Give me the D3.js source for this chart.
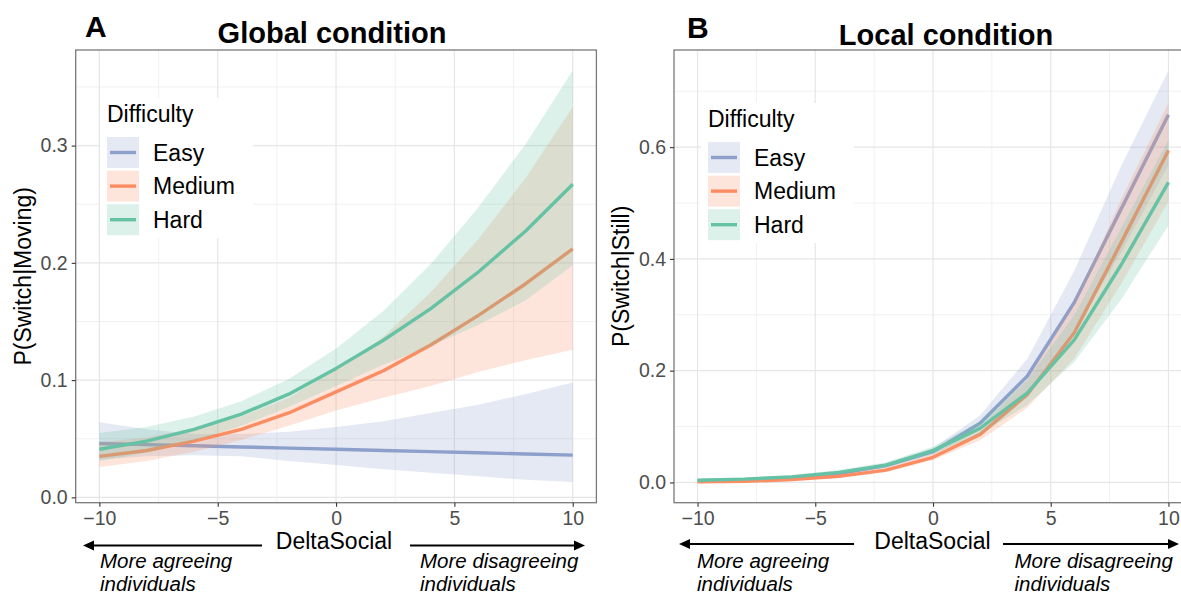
<!DOCTYPE html>
<html>
<head>
<meta charset="utf-8">
<script src="https://cdn.jsdelivr.net/npm/d3@7"></script>
<style>
  body { margin: 0; background: #fff; }
  svg { display: block; font-family: 'Liberation Sans', Arial, sans-serif; }
</style>
</head>
<body>
<div id="chart"></div>
<script>
// predicted values, evaluated at these DeltaSocial points
const deltaSocial = [-10, -8, -6, -4, -2, 0, 2, 4, 6, 8, 10];
const difficulty = ['Easy', 'Medium', 'Hard'];
const colors = ['#8DA0CB', '#FC8D62', '#66C2A5'];

// Global condition: P(Switch|Moving)
const globalEasy     = [0.046, 0.045, 0.044, 0.043, 0.042, 0.041, 0.040, 0.039, 0.038, 0.037, 0.036];
const globalEasyLo   = [0.032, 0.035, 0.036, 0.035, 0.031, 0.0275, 0.024, 0.021, 0.018, 0.015, 0.013];
const globalEasyHi   = [0.064, 0.058, 0.054, 0.054, 0.056, 0.060, 0.065, 0.072, 0.079, 0.088, 0.098];
const globalMedium   = [0.035, 0.040, 0.048, 0.058, 0.072, 0.090, 0.108, 0.130, 0.155, 0.182, 0.212];
const globalMediumLo = [0.026, 0.031, 0.039, 0.049, 0.061, 0.074, 0.085, 0.095, 0.107, 0.117, 0.126];
const globalMediumHi = [0.047, 0.051, 0.059, 0.069, 0.085, 0.109, 0.137, 0.175, 0.220, 0.272, 0.333];
const globalHard     = [0.041, 0.048, 0.058, 0.071, 0.088, 0.110, 0.134, 0.161, 0.192, 0.227, 0.267];
const globalHardLo   = [0.031, 0.038, 0.048, 0.061, 0.077, 0.095, 0.113, 0.129, 0.147, 0.168, 0.198];
const globalHardHi   = [0.055, 0.060, 0.069, 0.082, 0.101, 0.127, 0.159, 0.199, 0.247, 0.301, 0.364];

// Local condition: P(Switch|Still)
const localEasy     = [0.003, 0.005, 0.009, 0.016, 0.030, 0.055, 0.106, 0.190, 0.322, 0.490, 0.658];
const localEasyLo   = [0.0019, 0.0034, 0.0067, 0.0127, 0.0257, 0.0491, 0.0935, 0.1625, 0.270, 0.413, 0.568];
const localEasyHi   = [0.0047, 0.0073, 0.0121, 0.0200, 0.0350, 0.0616, 0.120, 0.221, 0.379, 0.567, 0.737];
const localMedium   = [0.001, 0.002, 0.005, 0.011, 0.022, 0.045, 0.086, 0.157, 0.268, 0.430, 0.594];
const localMediumLo = [0.0006, 0.0013, 0.0036, 0.0086, 0.0184, 0.0397, 0.0756, 0.1335, 0.222, 0.356, 0.503];
const localMediumHi = [0.0017, 0.0030, 0.0069, 0.0141, 0.0262, 0.0509, 0.0977, 0.184, 0.320, 0.507, 0.679];
const localHard     = [0.004, 0.006, 0.010, 0.018, 0.031, 0.057, 0.097, 0.160, 0.255, 0.390, 0.537];
const localHardLo   = [0.0026, 0.0042, 0.0075, 0.0145, 0.0266, 0.0509, 0.0862, 0.1385, 0.2155, 0.328, 0.460];
const localHardHi   = [0.0063, 0.0087, 0.0133, 0.0223, 0.0362, 0.0638, 0.109, 0.184, 0.299, 0.456, 0.613];

const xTicks = [-10, -5, 0, 5, 10];
const xMinor = [-7.5, -2.5, 2.5, 7.5];
const globalYTicks = [0, 0.1, 0.2, 0.3];
const globalYMinor = [0.05, 0.15, 0.25, 0.35];
const localYTicks = [0, 0.2, 0.4, 0.6];
const localYMinor = [0.1, 0.3, 0.5, 0.7];

const W = 1181, H = 594;
const bandAlpha = 0.23;

const svg = d3.select('#chart').append('svg')
  .attr('width', W)
  .attr('height', H);

svg.append('rect').attr('width', W).attr('height', H).attr('fill', '#fff');

function drawPanel(p) {
  const series = difficulty.map((name, i) => ({
    name: name,
    color: colors[i],
    rows: deltaSocial.map((d, j) => ({ x: d, y: p.values[i][j], lo: p.lo[i][j], hi: p.hi[i][j] }))
  }));

  // ggplot style 5% expansion
  const xExt = d3.extent(deltaSocial);
  const xPad = (xExt[1] - xExt[0]) * 0.05;
  const x = d3.scaleLinear()
    .domain([xExt[0] - xPad, xExt[1] + xPad])
    .range([p.left, p.right]);

  const yExt = d3.extent(d3.merge(p.lo.concat(p.hi)));
  const yPad = (yExt[1] - yExt[0]) * 0.05;
  const y = d3.scaleLinear()
    .domain([yExt[0] - yPad, yExt[1] + yPad])
    .range([p.bottom, p.top]);

  const g = svg.append('g');

  // grid
  const grid = g.append('g');
  grid.selectAll('.vminor').data(xMinor).enter().append('line')
    .attr('x1', d => x(d)).attr('x2', d => x(d))
    .attr('y1', p.top).attr('y2', p.bottom)
    .attr('stroke', '#efefef').attr('stroke-width', 0.9);
  grid.selectAll('.hminor').data(p.yMinor).enter().append('line')
    .attr('x1', p.left).attr('x2', p.right)
    .attr('y1', d => y(d)).attr('y2', d => y(d))
    .attr('stroke', '#efefef').attr('stroke-width', 0.9);
  grid.selectAll('.vmajor').data(xTicks).enter().append('line')
    .attr('x1', d => x(d)).attr('x2', d => x(d))
    .attr('y1', p.top).attr('y2', p.bottom)
    .attr('stroke', '#e6e6e6').attr('stroke-width', 1.2);
  grid.selectAll('.hmajor').data(p.yTicks).enter().append('line')
    .attr('x1', p.left).attr('x2', p.right)
    .attr('y1', d => y(d)).attr('y2', d => y(d))
    .attr('stroke', '#e6e6e6').attr('stroke-width', 1.2);

  const area = d3.area().x(d => x(d.x)).y0(d => y(d.lo)).y1(d => y(d.hi));
  const line = d3.line().x(d => x(d.x)).y(d => y(d.y));

  // ribbon then line, group by group
  series.forEach(s => {
    g.append('path')
      .datum(s.rows)
      .attr('d', area)
      .attr('fill', s.color)
      .attr('fill-opacity', bandAlpha);
    g.append('path')
      .datum(s.rows)
      .attr('d', line)
      .attr('fill', 'none')
      .attr('stroke', s.color)
      .attr('stroke-width', 3.4)
      .attr('stroke-linejoin', 'round');
  });

  // panel border
  g.append('rect')
    .attr('x', p.left).attr('y', p.top)
    .attr('width', p.right - p.left).attr('height', p.bottom - p.top)
    .attr('fill', 'none').attr('stroke', '#7a7a7a').attr('stroke-width', 1.3);

  // axes
  const xAxis = d3.axisBottom(x).tickValues(xTicks).tickSize(4).tickPadding(4);
  const yAxis = d3.axisLeft(y).tickValues(p.yTicks).tickSize(4).tickPadding(4).tickFormat(d3.format('.1f'));

  const ax = g.append('g')
    .attr('transform', `translate(0, ${p.bottom})`)
    .call(xAxis);
  const ay = g.append('g')
    .attr('transform', `translate(${p.left}, 0)`)
    .call(yAxis);
  [ax, ay].forEach(a => {
    a.select('.domain').remove();
    a.selectAll('line').attr('stroke', '#333').attr('stroke-width', 1.1);
    a.selectAll('text')
      .attr('fill', '#4d4d4d')
      .attr('font-size', '19.5px')
      .attr('font-family', "'Liberation Sans', Arial, sans-serif");
  });

  // titles
  g.append('text')
    .text(p.tag)
    .attr('x', p.tagX).attr('y', p.tagY)
    .attr('font-size', '30px').attr('font-weight', 'bold');
  g.append('text')
    .text(p.title)
    .attr('x', p.titleX).attr('y', p.titleY)
    .attr('text-anchor', 'middle')
    .attr('font-size', '29px').attr('font-weight', 'bold');

  g.append('text')
    .text(p.yLabel)
    .attr('transform', `translate(${p.left - 45}, ${(p.top + p.bottom) / 2}) rotate(-90)`)
    .attr('text-anchor', 'middle')
    .attr('font-size', '23px');

  // x label with direction arrows
  const lab = g.append('g');
  lab.append('text')
    .text('DeltaSocial')
    .attr('x', p.xLabelX).attr('y', 549)
    .attr('text-anchor', 'middle')
    .attr('font-size', '23px');
  const ay0 = p.arrowY;
  lab.append('line')
    .attr('x1', p.arrowL[0] + 8).attr('x2', p.arrowL[1])
    .attr('y1', ay0).attr('y2', ay0)
    .attr('stroke', '#000').attr('stroke-width', 2);
  lab.append('path')
    .attr('d', `M${p.arrowL[0]},${ay0} l11,-5 l0,10 z`)
    .attr('fill', '#000');
  lab.append('line')
    .attr('x1', p.arrowR[0]).attr('x2', p.arrowR[1] - 8)
    .attr('y1', ay0).attr('y2', ay0)
    .attr('stroke', '#000').attr('stroke-width', 2);
  lab.append('path')
    .attr('d', `M${p.arrowR[1]},${ay0} l-11,-5 l0,10 z`)
    .attr('fill', '#000');

  const notes = [
    { x: p.noteL, lines: ['More agreeing', 'individuals'] },
    { x: p.noteR, lines: ['More disagreeing', 'individuals'] }
  ];
  notes.forEach(n => {
    n.lines.forEach((t, k) => {
      lab.append('text')
        .text(t)
        .attr('x', n.x).attr('y', 568 + k * 23)
        .attr('font-size', '20.5px')
        .attr('font-style', 'italic');
    });
  });

  // legend
  const lx = p.legendX, ly = p.legendY;
  const leg = g.append('g');
  leg.append('rect')
    .attr('x', lx - 7).attr('y', ly - 24)
    .attr('width', 153).attr('height', 140)
    .attr('fill', '#fff');
  leg.append('text')
    .text('Difficulty')
    .attr('x', lx).attr('y', ly)
    .attr('font-size', '23px');
  series.forEach((s, i) => {
    const ky = ly + 15 + i * 33.6;
    leg.append('rect')
      .attr('x', lx).attr('y', ky)
      .attr('width', 32).attr('height', 31)
      .attr('fill', s.color).attr('fill-opacity', bandAlpha);
    leg.append('line')
      .attr('x1', lx + 3).attr('x2', lx + 29)
      .attr('y1', ky + 15.5).attr('y2', ky + 15.5)
      .attr('stroke', s.color).attr('stroke-width', 3.4);
    leg.append('text')
      .text(s.name)
      .attr('x', lx + 46).attr('y', ky + 23.5)
      .attr('font-size', '23px');
  });
}

drawPanel({
  tag: 'A', tagX: 85, tagY: 37,
  title: 'Global condition', titleX: 332, titleY: 43,
  yLabel: 'P(Switch|Moving)',
  left: 75.7, right: 596.4, top: 50, bottom: 502.7,
  values: [globalEasy, globalMedium, globalHard],
  lo: [globalEasyLo, globalMediumLo, globalHardLo],
  hi: [globalEasyHi, globalMediumHi, globalHardHi],
  yTicks: globalYTicks, yMinor: globalYMinor,
  xLabelX: 334, arrowY: 545.5, arrowL: [83, 262], arrowR: [410, 585],
  noteL: 100, noteR: 420,
  legendX: 107, legendY: 122
});

drawPanel({
  tag: 'B', tagX: 687, tagY: 38,
  title: 'Local condition', titleX: 946, titleY: 45,
  yLabel: 'P(Switch|Still)',
  left: 674, right: 1192, top: 50, bottom: 502.7,
  values: [localEasy, localMedium, localHard],
  lo: [localEasyLo, localMediumLo, localHardLo],
  hi: [localEasyHi, localMediumHi, localHardHi],
  yTicks: localYTicks, yMinor: localYMinor,
  xLabelX: 932.5, arrowY: 544, arrowL: [679, 854], arrowR: [1003, 1179],
  noteL: 697, noteR: 1014.5,
  legendX: 708, legendY: 127
});
</script>
</body>
</html>
